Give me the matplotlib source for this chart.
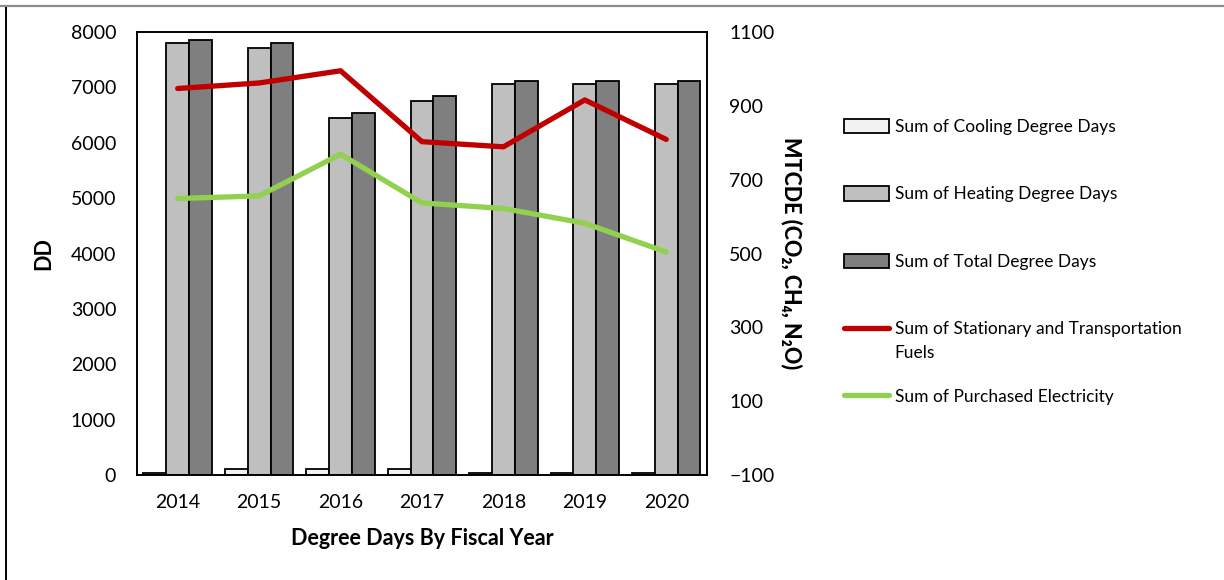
import matplotlib
matplotlib.use("Agg")
import matplotlib.pyplot as plt
import numpy as np
from matplotlib.lines import Line2D

plt.rcParams["font.family"] = ["Lato", "DejaVu Sans"]

# degree days and emissions by fiscal year
years = ["2014", "2015", "2016", "2017", "2018", "2019", "2020"]
cooling_dd = [40, 110, 110, 110, 40, 40, 40]
heating_dd = [7810, 7720, 6450, 6760, 7070, 7070, 7070]
total_dd = [7860, 7810, 6540, 6840, 7110, 7110, 7110]
stationary_fuels = [947, 962, 995, 803, 789, 916, 809]
purchased_elec = [649, 656, 769, 637, 622, 582, 504]

left_ticks = np.arange(0, 8001, 1000)
right_ticks = np.arange(-100, 1101, 200)

fig = plt.figure(figsize=(12.24, 5.8), dpi=100)
ax = fig.add_axes([0.1119, 0.181, 0.4657, 0.7638])
ax2 = ax.twinx()

x = np.arange(len(years))
w = 0.28
ax.bar(x - w, cooling_dd, w, color="#f2f2f2", edgecolor="black", linewidth=1.3)
ax.bar(x, heating_dd, w, color="#bfbfbf", edgecolor="black", linewidth=1.3)
ax.bar(x + w, total_dd, w, color="#7f7f7f", edgecolor="black", linewidth=1.3)

ax2.plot(x, stationary_fuels, color="#c00000", linewidth=3.8, solid_capstyle="round")
ax2.plot(x, purchased_elec, color="#92d050", linewidth=3.8, solid_capstyle="round")

ax.set_xlim(-0.5, len(years) - 0.5)
ax.set_ylim(0, 8000)
ax2.set_ylim(-100, 1100)
ax.set_yticks(left_ticks)
ax2.set_yticks(right_ticks)
ax.set_xticks(x)
ax.set_xticklabels(years)

ax.tick_params(axis="both", length=0, labelsize=14, colors="black")
ax.tick_params(axis="y", pad=15)
ax.tick_params(axis="x", pad=14)
ax2.tick_params(axis="y", length=0, labelsize=14, pad=16)

for sp in list(ax.spines.values()) + list(ax2.spines.values()):
    sp.set_color("black")
    sp.set_linewidth(1.2)

ax.set_xlabel("Degree Days By Fiscal Year", fontsize=15.5, fontweight="bold", labelpad=12)
ax.set_ylabel("DD", fontsize=15.5, fontweight="bold", labelpad=12)
ax2.set_ylabel("MTCDE (CO₂, CH₄, N₂O)", fontsize=15.5, fontweight="black",
               rotation=270, labelpad=20)

handles = [
    plt.Rectangle((0, 0), 1, 1, facecolor="#f2f2f2", edgecolor="black", linewidth=1.3),
    plt.Rectangle((0, 0), 1, 1, facecolor="#bfbfbf", edgecolor="black", linewidth=1.3),
    plt.Rectangle((0, 0), 1, 1, facecolor="#7f7f7f", edgecolor="black", linewidth=1.3),
    Line2D([], [], color="#c00000", linewidth=3.8, solid_capstyle="round"),
    Line2D([], [], color="#92d050", linewidth=3.8, solid_capstyle="round"),
]
labels = [
    "Sum of Cooling Degree Days",
    "Sum of Heating Degree Days",
    "Sum of Total Degree Days",
    "Sum of Stationary and Transportation",
    "Sum of Purchased Electricity",
]
leg = fig.legend(handles, labels, loc="upper left", bbox_to_anchor=(0.684, 0.807),
                 frameon=False, fontsize=12.5, handlelength=2.6, handleheight=0.9,
                 handletextpad=0.3, labelspacing=2.95, borderaxespad=0)

# wrapped second line of the fuels entry, under its first line
fig.canvas.draw()
bb = leg.get_texts()[3].get_window_extent().transformed(fig.transFigure.inverted())
fig.text(bb.x0, bb.y0 - 0.013, "Fuels", fontsize=12.5, ha="left", va="top")

# chart frame edges
fig.add_artist(Line2D([0, 1], [0.9905, 0.9905], transform=fig.transFigure,
                      color="#8c8c8c", linewidth=1.6))
fig.add_artist(Line2D([0.0045, 0.0045], [0, 0.987], transform=fig.transFigure,
                      color="black", linewidth=1.4))

fig.savefig("out.png", dpi=100)
